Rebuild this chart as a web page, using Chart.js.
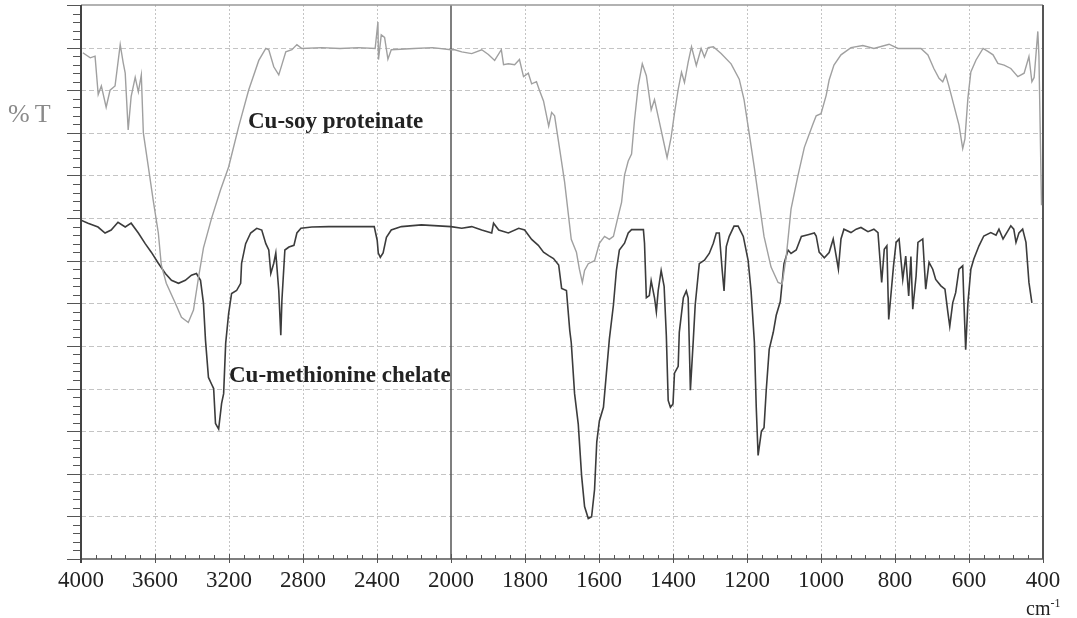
<!DOCTYPE html>
<html>
<head>
<meta charset="utf-8">
<title>FTIR spectra - Cu-soy proteinate / Cu-methionine chelate</title>
<script src="https://cdn.jsdelivr.net/npm/chart.js@4.4.0/dist/chart.umd.min.js"></script>
<style>
  html, body { margin: 0; padding: 0; background: #fff; }
  #wrap { width: 1077px; height: 618px; }
</style>
</head>
<body>
<div id="wrap"><canvas id="spectrum" width="1077" height="618"></canvas></div>
<script>
// ========== DATA ==========
// x ticks (cm-1); scale is compressed 2x above 2000
const xTickLabels = ['4000', '3600', '3200', '2800', '2400', '2000', '1800', '1600', '1400', '1200', '1000', '800', '600', '400'];

// Cu-soy proteinate (light trace)
const soyWavenumber = [
  3990, 3950, 3924, 3907, 3890, 3864, 3843, 3816, 3788, 3772,
  3761, 3745, 3729, 3707, 3690, 3674, 3663, 3636, 3609, 3582,
  3566, 3539, 3490, 3457, 3420, 3392, 3365, 3338, 3294, 3246,
  3202, 3148, 3094, 3039, 3001, 2985, 2958, 2931, 2914, 2893,
  2860, 2833, 2806, 2700, 2600, 2500, 2410, 2395, 2392, 2377,
  2359, 2341, 2323, 2200, 2100, 2000, 1990, 1971, 1944, 1917,
  1899, 1882, 1864, 1858, 1845, 1828, 1815, 1804, 1791, 1782,
  1769, 1761, 1750, 1736, 1728, 1720, 1706, 1693, 1675, 1661,
  1653, 1645, 1639, 1629, 1612, 1599, 1585, 1572, 1561, 1548,
  1539, 1531, 1521, 1512, 1504, 1494, 1483, 1472, 1459, 1450,
  1440, 1426, 1416, 1405, 1396, 1386, 1377, 1369, 1359, 1350,
  1337, 1324, 1315, 1305, 1291, 1270, 1243, 1221, 1208, 1194,
  1180, 1167, 1154, 1135, 1116, 1105, 1094, 1081, 1062, 1045,
  1022, 1013, 1000, 986, 978, 965, 946, 919, 887, 857,
  816, 792, 730, 711, 695, 681, 671, 663, 655, 641,
  627, 617, 611, 603, 595, 581, 562, 549, 535, 522,
  505, 487, 468, 451, 438, 430, 424, 414, 411, 404
];
const soyT = [
  118.8, 117.6, 118, 109, 111, 106, 110, 111, 120.7, 116.5,
  114, 100.7, 108.5, 113, 109.6, 113.6, 100, 92, 84, 76.5,
  69, 64.7, 60, 56.7, 55.5, 58.4, 66, 73, 80, 86.6,
  92, 101.4, 110, 117, 119.8, 119.5, 115.5, 113.6, 116, 119,
  119.5, 120.7, 119.8, 120, 119.8, 120, 119.8, 126, 117.2, 123,
  122.4, 117.3, 119.5, 119.8, 120, 119.5, 119.5, 119, 118.6, 119.5,
  118.4, 117, 119.5, 116, 116.2, 116, 117.2, 113.2, 114, 111.5,
  112, 110, 107.5, 101.6, 104.8, 104, 96, 88.5, 75, 72,
  68, 64.9, 67.7, 69.3, 70, 74.1, 75.7, 75, 75.7, 80.5,
  83.7, 90.1, 93.4, 95, 103, 111, 116.2, 113.4, 105.4, 107.8,
  103.8, 98.2, 94.2, 99, 104.6, 110.2, 114.2, 111.8, 116.6, 120.2,
  115.8, 119.8, 117.8, 120, 120.2, 118.6, 116.2, 112.6, 107.8, 99.8,
  91.7, 83.7, 75.7, 68.5, 64.9, 64.5, 70.9, 82.1, 90.1, 96.6,
  102, 104, 104.5, 108.8, 112.4, 115.9, 118.3, 120, 120.5, 119.8,
  120.8, 119.8, 119.8, 118.3, 115.1, 112.8, 112, 113.6, 111.2, 106.5,
  101.8, 96.3, 98.6, 108.1, 114.3, 117.1, 119.8, 119.1, 118.3, 116.3,
  115.9, 115.1, 113.2, 114, 117.9, 112, 113, 123.8, 118, 83
];

// Cu-methionine chelate (dark trace)
const chelateWavenumber = [
  4000, 3962, 3908, 3870, 3837, 3800, 3761, 3729, 3690, 3653,
  3620, 3582, 3544, 3511, 3473, 3436, 3403, 3376, 3354, 3338,
  3327, 3311, 3294, 3283, 3273, 3256, 3240, 3229, 3218, 3202,
  3186, 3159, 3137, 3132, 3110, 3083, 3050, 3023, 3001, 2985,
  2974, 2958, 2947, 2931, 2920, 2914, 2898, 2876, 2849, 2833,
  2811, 2752, 2660, 2550, 2415, 2399, 2393, 2382, 2367, 2349,
  2323, 2268, 2160, 2000, 1971, 1944, 1917, 1890, 1885, 1871,
  1845, 1817, 1801, 1782, 1764, 1750, 1736, 1723, 1709, 1701,
  1688, 1679, 1675, 1666, 1656, 1647, 1639, 1629, 1620, 1612,
  1606, 1599, 1588, 1580, 1572, 1561, 1553, 1545, 1531, 1521,
  1512, 1494, 1480, 1477, 1472, 1464, 1459, 1450, 1445, 1440,
  1432, 1424, 1418, 1413, 1407, 1400, 1396, 1386, 1383, 1372,
  1364, 1359, 1353, 1345, 1340, 1329, 1315, 1302, 1291, 1283,
  1275, 1267, 1262, 1256, 1248, 1235, 1224, 1210, 1197, 1189,
  1180, 1175, 1170, 1161, 1154, 1148, 1140, 1129, 1121, 1110,
  1100, 1089, 1081, 1067, 1053, 1035, 1018, 1013, 1005, 991,
  978, 967, 959, 953, 946, 938, 919, 905, 892, 873,
  857, 846, 840, 836, 829, 822, 817, 811, 804, 797,
  789, 779, 771, 763, 757, 752, 743, 738, 725, 717,
  708, 698, 690, 676, 665, 657, 652, 644, 636, 627,
  617, 614, 609, 603, 595, 587, 573, 560, 541, 527,
  519, 508, 495, 487, 479, 473, 465, 455, 446, 438,
  430
];
const chelateT = [
  79.5, 78.8, 77.9, 76.5, 77.2, 79, 77.9, 78.8, 76.5, 74,
  72, 69.4, 67, 65.4, 64.7, 65.4, 66.6, 67, 65.4, 60,
  51.3, 42.6, 41, 40, 31.8, 30.5, 36.5, 38.8, 50.6, 57.6,
  62.3, 63, 64.7, 69.4, 74, 76.5, 77.6, 77.2, 74, 72.5,
  67, 69.4, 71.8, 63, 52.5, 60.7, 72.5, 73.2, 73.6, 76.5,
  77.6, 77.9, 78, 78, 78, 74.8, 71.8, 70.8, 71.8, 75.5,
  77.2, 78, 78.4, 78, 77.6, 78, 77.2, 76.5, 78.8, 77.2,
  76.5, 77.6, 77.2, 75, 73.6, 72, 71.2, 70.5, 69, 63.5,
  63, 53.6, 50.8, 38.8, 31.6, 19.5, 12.3, 9.5, 9.9, 16.3,
  27.5, 32.4, 35.6, 43.6, 51.6, 59.6, 67.7, 72.5, 74.1, 76.5,
  77.3, 77.3, 77.3, 74.1, 61.3, 61.8, 65.3, 61.3, 58, 63,
  67.7, 64, 52.4, 37.2, 35.6, 36.4, 43.6, 45.2, 53.2, 61.3,
  62.9, 61.3, 39.6, 51.6, 59.6, 69.3, 70.1, 71.7, 74.1, 76.5,
  76.5, 67.7, 62.9, 73.3, 75.7, 78.1, 78.1, 75.7, 70.1, 62.9,
  50.8, 35.6, 24.3, 30, 30.8, 39.6, 49.2, 53.2, 57.2, 60.4,
  69.3, 72.5, 71.7, 72.5, 75.7, 76.1, 76.5, 75.8, 72, 70.7,
  71.9, 75.1, 71.1, 68, 75.1, 77.4, 76.6, 77.4, 77.8, 76.8,
  77.4, 76.6, 69.6, 64.9, 72.7, 73.5, 56.2, 62, 68.8, 74.3,
  75.1, 65.6, 71.1, 61.7, 71, 58.6, 66.4, 74.3, 75.1, 63.3,
  69.6, 68, 65.6, 64.1, 63.3, 57.8, 54.6, 60.1, 62.5, 68,
  68.8, 60.9, 49.1, 60, 68, 70.4, 73.5, 75.8, 76.6, 76,
  77.4, 75.1, 77, 78.2, 77.4, 74.3, 76.5, 77.4, 74.3, 64.9,
  60.1
];

// ========== HELPERS ==========
// spectrometer axis: 400 cm-1 per division above 2000, 200 cm-1 per division below
function toPos(w) {
    return w >= 2000 ? (4000 - w) / 400 : 5 + (2000 - w) / 200;
}

function toPoints(ws, ts) {
    return ws.map((w, i) => ({ x: toPos(w), y: ts[i] }));
}

const serif = "'Liberation Serif', 'Times New Roman', 'DejaVu Serif', serif";

// grid, frame and tick marks drawn like the instrument printout
const framePlugin = {
    id: 'frame',
    beforeDatasetsDraw(chart) {
        const { ctx, chartArea: a, scales: { x, y } } = chart;
        const line = (x1, y1, x2, y2) => {
            ctx.beginPath();
            ctx.moveTo(x1, y1);
            ctx.lineTo(x2, y2);
            ctx.stroke();
        };
        ctx.save();

        // dashed horizontal grid
        ctx.lineWidth = 1;
        ctx.strokeStyle = '#c4c4c4';
        ctx.setLineDash([5, 3]);
        for (let v = 10; v < 130; v += 10) {
            const py = Math.round(y.getPixelForValue(v)) + 0.5;
            line(a.left, py, a.right, py);
        }
        // dotted vertical grid
        ctx.setLineDash([2, 2]);
        for (let p = 1; p < 13; p++) {
            if (p === 5) continue;
            const px = Math.round(x.getPixelForValue(p)) + 0.5;
            line(px, a.top, px, a.bottom);
        }
        ctx.setLineDash([]);

        // scale break at 2000
        ctx.strokeStyle = '#555';
        ctx.lineWidth = 1.5;
        const p2000 = x.getPixelForValue(toPos(2000));
        line(p2000, a.top, p2000, a.bottom);

        // y tick marks (outside)
        ctx.strokeStyle = '#555';
        ctx.lineWidth = 1;
        for (let v = 0; v <= 130; v += 2) {
            const py = Math.round(y.getPixelForValue(v)) + 0.5;
            line(a.left - (v % 10 === 0 ? 14 : 8), py, a.left, py);
        }
        // x tick marks
        for (let i = 0; i <= 65; i++) {
            const px = Math.round(x.getPixelForValue(i / 5)) + 0.5;
            if (i % 5 === 0) line(px, a.bottom - 5, px, a.bottom + 4);
            else line(px, a.bottom - 4, px, a.bottom);
        }

        // frame
        ctx.strokeStyle = '#999';
        ctx.lineWidth = 1.5;
        line(a.left, a.top, a.right, a.top);
        ctx.strokeStyle = '#555';
        line(a.left, a.bottom, a.right, a.bottom);
        ctx.lineWidth = 2;
        ctx.strokeStyle = '#444';
        line(a.left, a.top, a.left, a.bottom + 4);
        ctx.strokeStyle = '#555';
        line(a.right, a.top, a.right, a.bottom);
        ctx.restore();
    },
    afterDraw(chart) {
        const { ctx } = chart;
        ctx.save();
        ctx.textBaseline = 'alphabetic';

        // y axis title
        ctx.fillStyle = '#8a8a8a';
        ctx.font = '26px ' + serif;
        ctx.letterSpacing = '5px';
        ctx.fillText('%T', 8, 122);
        ctx.letterSpacing = '0px';

        // trace labels
        ctx.fillStyle = '#222';
        ctx.font = 'bold 23px ' + serif;
        ctx.fillText('Cu-soy proteinate', 248, 128);
        ctx.fillText('Cu-methionine chelate', 229, 382);

        // unit
        ctx.font = '20px ' + serif;
        ctx.fillText('cm', 1026, 615);
        const w = ctx.measureText('cm').width;
        ctx.font = '12px ' + serif;
        ctx.fillText('-1', 1026 + w, 607);
        ctx.restore();
    }
};

// ========== CHART ==========
const spectrumCanvas = document.getElementById('spectrum');
new Chart(spectrumCanvas, {
    type: 'line',
    data: {
        datasets: [{
            label: 'Cu-soy proteinate',
            data: toPoints(soyWavenumber, soyT),
            borderColor: '#a0a0a0',
            borderWidth: 1.4,
            pointRadius: 0,
            tension: 0,
            fill: false
        }, {
            label: 'Cu-methionine chelate',
            data: toPoints(chelateWavenumber, chelateT),
            borderColor: '#3c3c3c',
            borderWidth: 1.6,
            pointRadius: 0,
            tension: 0,
            fill: false
        }]
    },
    options: {
        responsive: false,
        animation: false,
        layout: {
            padding: { top: 5, right: 34, bottom: 0, left: 0 }
        },
        plugins: {
            legend: { display: false },
            tooltip: { enabled: false }
        },
        scales: {
            x: {
                type: 'linear',
                min: 0,
                max: 13,
                grid: { display: false, drawTicks: false },
                border: { display: false },
                afterFit: function(scale) { scale.height = 59; },
                ticks: {
                    stepSize: 1,
                    autoSkip: false,
                    maxRotation: 0,
                    padding: 8,
                    color: '#222',
                    font: { family: serif, size: 23 },
                    callback: function(value) {
                        return Number.isInteger(value) ? xTickLabels[value] : '';
                    }
                }
            },
            y: {
                min: 0,
                max: 130,
                grid: { display: false, drawTicks: false },
                border: { display: false },
                afterFit: function(scale) { scale.width = 81; },
                ticks: { display: false, stepSize: 10 }
            }
        }
    },
    plugins: [framePlugin]
});
</script>
</body>
</html>
